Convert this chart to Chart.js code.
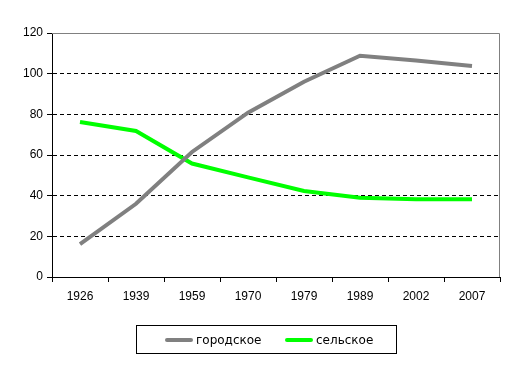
<!DOCTYPE html>
<html>
<head>
<meta charset="utf-8">
<script src="https://cdn.jsdelivr.net/npm/chart.js@4"></script>
<style>
  body { margin: 0; background: #fff; }
  #wrap { position: relative; width: 514px; height: 371px; }
  #legend {
    position: absolute; left: 136px; top: 325px; width: 261px; height: 29px;
    border: 1px solid #000; box-sizing: border-box;
    font-family: "DejaVu Sans", sans-serif; font-size: 12px; color: #000;
  }
  .item { position: absolute; top: 7px; height: 14px; line-height: 14px; }
  .item span.line { display: inline-block; width: 28px; height: 4px; border-radius: 2px; vertical-align: middle; margin-right: 3px; margin-top: -2px; }
</style>
</head>
<body>
<div id="wrap">
  <canvas id="myChart" width="514" height="371"></canvas>
  <div id="legend"></div>
</div>
<script>
var years = ['1926', '1939', '1959', '1970', '1979', '1989', '2002', '2007'];
var urban = [16.2, 36, 61.5, 80.8, 96, 108.8, 106.5, 103.8];
var rural = [76.2, 71.8, 55.8, 49, 42.3, 39, 38.2, 38.2];
var seriesNames = ['городское', 'сельское'];
var seriesColors = ['#808080', '#00ff00'];
var yTicks = [0, 20, 40, 60, 80, 100, 120];

// gray frame on top and right like the excel plot area
var frame = {
  id: 'frame',
  afterDraw: function(chart) {
    var a = chart.chartArea, ctx = chart.ctx;
    ctx.save();
    ctx.strokeStyle = '#808080';
    ctx.lineWidth = 1;
    ctx.beginPath();
    ctx.moveTo(a.left, a.top + 0.5);
    ctx.lineTo(a.right - 0.5, a.top + 0.5);
    ctx.lineTo(a.right - 0.5, a.bottom);
    ctx.stroke();
    ctx.restore();
  }
};

var ctx = document.getElementById('myChart');
var chart = new Chart(ctx, {
  type: 'line',
  data: {
    labels: years,
    datasets: [{
      label: seriesNames[0],
      data: urban,
      borderColor: seriesColors[0],
      backgroundColor: seriesColors[0],
      borderWidth: 4,
      pointRadius: 0,
      tension: 0
    }, {
      label: seriesNames[1],
      data: rural,
      borderColor: seriesColors[1],
      backgroundColor: seriesColors[1],
      borderWidth: 4,
      pointRadius: 0,
      tension: 0
    }]
  },
  options: {
    responsive: false,
    animation: false,
    layout: { padding: { left: 0, top: 33, right: 14, bottom: 64 } },
    plugins: {
      legend: { display: false },
      tooltip: { enabled: false }
    },
    scales: {
      x: {
        offset: true,
        afterFit: function(s) { s.height = 30; },
        grid: { offset: true, drawOnChartArea: false, drawTicks: true, tickLength: 5, tickColor: '#000' },
        border: { color: '#000', width: 1 },
        ticks: { color: '#000', padding: 7, font: { family: 'Liberation Sans', size: 12 } }
      },
      y: {
        min: 0,
        max: 120,
        afterFit: function(s) { s.width = 52; },
        afterBuildTicks: function(s) { s.ticks = yTicks.map(function(v) { return { value: v }; }); },
        grid: {
          color: function(c) {
            if (c.tick && (c.tick.value === 0 || c.tick.value === 120)) return 'rgba(0,0,0,0)';
            return '#000';
          },
          tickColor: '#000',
          tickLength: 5
        },
        border: { color: '#000', width: 1, dash: [4, 3] },
        ticks: { color: '#000', padding: 4, font: { family: 'Liberation Sans', size: 12 } }
      }
    }
  },
  plugins: [frame]
});

// legend from the series
var legend = document.getElementById('legend');
var lefts = [28, 148];
seriesNames.forEach(function(name, i) {
  legend.innerHTML += '<div class="item" style="left:' + lefts[i] + 'px"><span class="line" style="background:' + seriesColors[i] + '"></span>' + name + '</div>';
});
</script>
</body>
</html>
